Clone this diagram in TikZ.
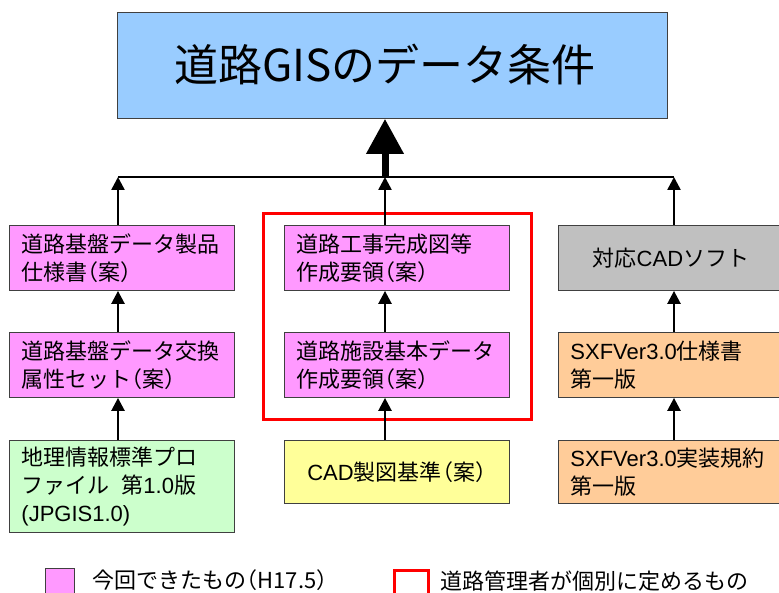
\documentclass[tikz,border=0pt]{standalone}
\usepackage{fontspec}
\setmainfont{Noto Sans CJK JP}
\newfontfamily\lat{Liberation Sans}
\usetikzlibrary{arrows.meta}
\definecolor{topblue}{HTML}{99CCFF}
\definecolor{pinkc}{HTML}{FF99FF}
\definecolor{greenc}{HTML}{CCFFCC}
\definecolor{yellowc}{HTML}{FFFF99}
\definecolor{orangec}{HTML}{FFCC99}
\definecolor{grayc}{HTML}{C0C0C0}
\definecolor{edgec}{HTML}{404040}
\newcommand\LP{\kern-.48em（}
\newcommand\RP{）\kern-.48em}
\begin{document}
\begin{tikzpicture}[x=1pt,y=-1pt,
  box/.style={draw=edgec, line width=0.9pt, rectangle, inner ysep=0pt, inner xsep=12pt,
    anchor=north west, font=\fontsize{22}{28}\selectfont, text width=201pt, align=left},
  rowa/.style={minimum height=65pt},
  bus/.style={line width=2.5pt},
  sarr/.style={line width=2.5pt, -{Triangle[width=13pt,length=13pt]}},
  barr/.style={line width=7pt, -{Triangle[width=36pt,length=35pt]}},
  lgtext/.style={anchor=west, inner sep=0pt, font=\fontsize{22}{28}\selectfont}
]
\clip (0,0) rectangle (779,593);
\useasboundingbox (0,0) rectangle (779,593);

% top box
\node[draw=edgec, line width=0.9pt, fill=topblue, minimum width=550pt, minimum height=106pt,
  anchor=north west, inner sep=0pt] (top) at (117,12) {};
\node[inner sep=0pt, font=\fontsize{44}{50}\selectfont] (title) at (385,65) {道路GISのデータ条件};

% group frame
\node[draw=red, line width=3pt, minimum width=268pt, minimum height=206pt,
  anchor=north west, inner sep=0pt] (grp) at (262,212) {};

% row 1
\node[box, rowa, fill=pinkc] (L1) at (9,225) {道路基盤データ製品\\仕様書\LP 案\RP};
\node[box, rowa, fill=pinkc] (M1) at (284,225) {道路工事完成図等\\作成要領\LP 案\RP};
\node[box, rowa, fill=grayc, align=center] (R1) at (558,225) {対応{\lat CAD}ソフト};

% row 2
\node[box, rowa, fill=pinkc] (L2) at (9,332) {道路基盤データ交換\\属性セット\LP 案\RP};
\node[box, rowa, fill=pinkc] (M2) at (284,332) {道路施設基本データ\\作成要領\LP 案\RP};
\node[box, rowa, fill=orangec] (R2) at (558,332) {{\lat SXFVer3.0}仕様書\\第一版};

% row 3
\node[box, fill=greenc, minimum height=92pt] (L3) at (9,440) {地理情報標準プロ\\ファイル\hspace{12pt}第{\lat 1.0}版\\{\lat (JPGIS1.0)}};
\node[box, fill=yellowc, minimum height=63pt, align=center] (M3) at (284,440) {{\lat CAD}製図基準\LP 案\RP};
\node[box, fill=orangec, minimum height=63pt] (R3) at (558,440) {{\lat SXFVer3.0}実装規約\\第一版};

% connectors
\coordinate (jL) at (118,177);
\coordinate (jM) at (385,177);
\coordinate (jR) at (674,177);
\draw[bus] (jL) -- (jR);
\draw[barr] (jM) -- (top.south -| jM);
\draw[sarr] (L1.north -| jL) -- (jL);
\draw[sarr] (M1.north -| jM) -- (jM);
\draw[sarr] (R1.north -| jR) -- (jR);
\draw[sarr] (L2.north -| jL) -- (L1.south -| jL);
\draw[sarr] (L3.north -| jL) -- (L2.south -| jL);
\draw[sarr] (M2.north -| jM) -- (M1.south -| jM);
\draw[sarr] (M3.north -| jM) -- (M2.south -| jM);
\draw[sarr] (R2.north -| jR) -- (R1.south -| jR);
\draw[sarr] (R3.north -| jR) -- (R2.south -| jR);

% legend
\node[draw=edgec, line width=0.9pt, fill=pinkc, minimum width=29pt, minimum height=34pt,
  anchor=north west, inner sep=0pt] (lgP) at (45,568) {};
\node[lgtext] (lgPt) at (92,580) {今回できたもの\LP H17.5\RP};
\node[draw=red, line width=3pt, minimum width=34pt, minimum height=34pt,
  anchor=north west, inner sep=0pt] (lgR) at (393,569) {};
\node[lgtext] (lgRt) at (440,581) {道路管理者が個別に定めるもの};
\end{tikzpicture}
\end{document}
